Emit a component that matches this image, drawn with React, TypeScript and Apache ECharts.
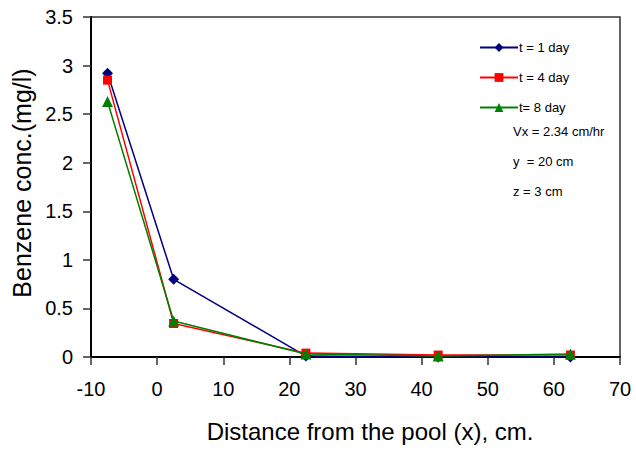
import React, { useEffect, useRef } from "react";
import * as echarts from "echarts";

const xValues = [-7.5, 2.5, 22.5, 42.5, 62.5];
const day1 = [2.92, 0.8, 0.01, 0.0, 0.0];
const day4 = [2.85, 0.345, 0.04, 0.02, 0.02];
const day8 = [2.63, 0.37, 0.03, 0.01, 0.03];
const seriesNames = ["t = 1 day", "t = 4 day", "t= 8 day"];
const noteLines = ["Vx = 2.34 cm/hr", "y  = 20 cm", "z = 3 cm"];

const FONT = "Liberation Sans, Arial, sans-serif";

export default function App() {
  const ref = useRef<HTMLDivElement>(null);
  useEffect(() => {
    if (!ref.current) return;
    const chart = echarts.init(ref.current, null, { renderer: "svg" });
    const mk = (ys: number[]) => xValues.map((x, i) => [x, ys[i]]);
    chart.setOption({
      animation: false,
      backgroundColor: "#ffffff",
      textStyle: { fontFamily: FONT },
      grid: {
        left: 91,
        top: 17,
        right: 16,
        bottom: 104,
        show: true,
        borderColor: "#333333",
        borderWidth: 1.5,
      },
      xAxis: {
        type: "value",
        min: -10,
        max: 70,
        interval: 10,
        axisLine: { onZero: false, lineStyle: { color: "#000", width: 2 } },
        axisTick: { show: true, inside: false, length: 8, lineStyle: { color: "#333", width: 1.5 } },
        axisLabel: { color: "#000", fontSize: 20, margin: 22, fontFamily: FONT },
        splitLine: { show: false },
      },
      yAxis: {
        type: "value",
        min: 0,
        max: 3.5,
        interval: 0.5,
        axisLine: { show: true, onZero: false, lineStyle: { color: "#000", width: 2 } },
        axisTick: { show: true, inside: false, length: 8, lineStyle: { color: "#333", width: 1.5 } },
        axisLabel: { color: "#000", fontSize: 20, margin: 18, fontFamily: FONT },
        splitLine: { show: false },
      },
      legend: {
        orient: "vertical",
        left: 474,
        top: 36,
        itemWidth: 38,
        itemHeight: 11,
        itemGap: 17,
        textStyle: { fontSize: 13, color: "#000", fontFamily: FONT, padding: [0, 0, 0, -4] },
        data: seriesNames,
      },
      series: [
        {
          name: seriesNames[0],
          type: "line",
          data: mk(day1),
          symbol: "diamond",
          symbolSize: 11,
          color: "#000080",
          lineStyle: { width: 1.5, color: "#000080" },
          itemStyle: { color: "#000080" },
          z: 3,
        },
        {
          name: seriesNames[1],
          type: "line",
          data: mk(day4),
          symbol: "rect",
          symbolSize: 9,
          color: "#ff0000",
          lineStyle: { width: 1.5, color: "#ff0000" },
          itemStyle: { color: "#ff0000" },
          z: 4,
        },
        {
          name: seriesNames[2],
          type: "line",
          data: mk(day8),
          symbol: "triangle",
          symbolSize: 11,
          color: "#008000",
          lineStyle: { width: 1.5, color: "#008000" },
          itemStyle: { color: "#008000" },
          z: 5,
        },
      ],
      graphic: [
        ...noteLines.map((t, i) => ({
          type: "text",
          left: 513,
          top: 125 + i * 30,
          style: { text: t, fontSize: 13, fill: "#000", fontFamily: FONT },
        })),
        {
          type: "text",
          x: 22,
          y: 183,
          rotation: Math.PI / 2,
          style: {
            text: "Benzene conc.(mg/l)",
            fontSize: 25,
            fill: "#000",
            fontFamily: FONT,
            align: "center",
            verticalAlign: "middle",
          },
        },
        {
          type: "text",
          x: 370,
          y: 431,
          style: {
            text: "Distance from the pool (x), cm.",
            fontSize: 24,
            fill: "#000",
            fontFamily: FONT,
            align: "center",
            verticalAlign: "middle",
          },
        },
      ],
    });
    return () => chart.dispose();
  }, []);
  return <div ref={ref} style={{ width: 636, height: 461, position: "absolute", left: 0, top: 0 }} />;
}
